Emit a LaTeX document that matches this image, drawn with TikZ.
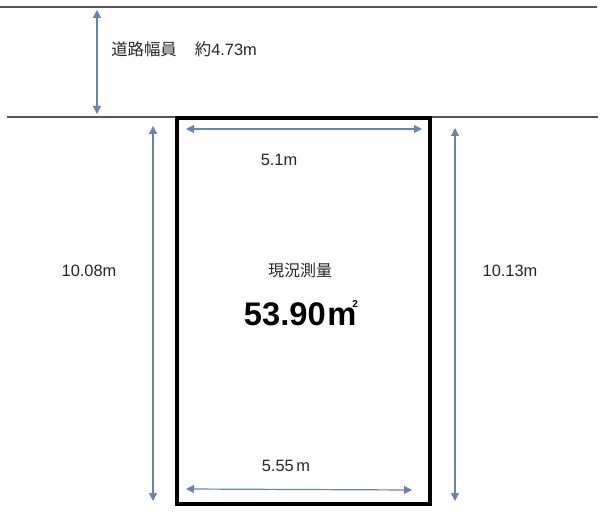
\documentclass[tikz,border=0pt]{standalone}
\usepackage{fontspec}
\setmainfont{Liberation Sans}
\newfontfamily\jp{Noto Sans CJK JP}
\usetikzlibrary{arrows.meta}
\definecolor{arrowblue}{HTML}{6A84AC}
\definecolor{linegray}{HTML}{555555}
\tikzset{
  dimarrow/.style={draw=arrowblue!80!gray, line width=0.9pt, {Triangle[length=6pt,width=6pt]}-{Triangle[length=6pt,width=6pt]}},
  roadline/.style={draw=linegray, line width=1pt},
  lotbox/.style={draw=black, line width=2.4pt},
  dimlabel/.style={font=\fontsize{12.3}{14}\selectfont, text=black!85, inner sep=0pt},
}
\begin{document}
\begin{tikzpicture}[x=0.75pt,y=-0.75pt]
\useasboundingbox (0,0) rectangle (600,513);
% road lines
\coordinate (rl1) at (0,7);
\coordinate (rr1) at (597,7);
\coordinate (rl2) at (7,117);
\coordinate (rr2) at (598,117);
\draw[roadline] (rl1) -- (rr1);
\draw[roadline] (rl2) -- (rr2);
% lot
\coordinate (lotA) at (177,118);
\coordinate (lotB) at (430,504);
\draw[lotbox] (lotA) rectangle (lotB);
% road width arrow
\coordinate (rw1) at (97,10);
\coordinate (rw2) at (97,114);
\draw[dimarrow] (rw1) -- (rw2);
\node[dimlabel, anchor=west] (roadlabel) at (111,49) {{\jp 道路幅員}\hspace{1.1em}{\jp 約}4.73m};
% left arrow
\coordinate (la1) at (153,126);
\coordinate (la2) at (153,501);
\draw[dimarrow] (la1) -- (la2);
\node[dimlabel] (leftlabel) at (89,271) {10.08m};
% right arrow
\coordinate (ra1) at (455,128);
\coordinate (ra2) at (455,501);
\draw[dimarrow] (ra1) -- (ra2);
\node[dimlabel] (rightlabel) at (510,271) {10.13m};
% top arrow
\coordinate (ta1) at (186,129);
\coordinate (ta2) at (422,129);
\draw[dimarrow] (ta1) -- (ta2);
\node[dimlabel] (toplabel) at (279,160) {5.1m};
% bottom arrow
\coordinate (ba1) at (186,489);
\coordinate (ba2) at (412,490);
\draw[dimarrow] (ba1) -- (ba2);
\node[dimlabel] (bottomlabel) at (286,466) {5.55\,m};
% center text
\node[dimlabel, font=\jp\fontsize{12}{14}\selectfont] (survey) at (300,270) {現況測量};
\node[inner sep=0pt, font=\bfseries\fontsize{24.5}{28}\selectfont] (area) at (301,313) {53.90\kern0.05em m\kern-0.12em\raisebox{1.05ex}{\fontsize{7.5}{8}\selectfont 2}};
\end{tikzpicture}
\end{document}
